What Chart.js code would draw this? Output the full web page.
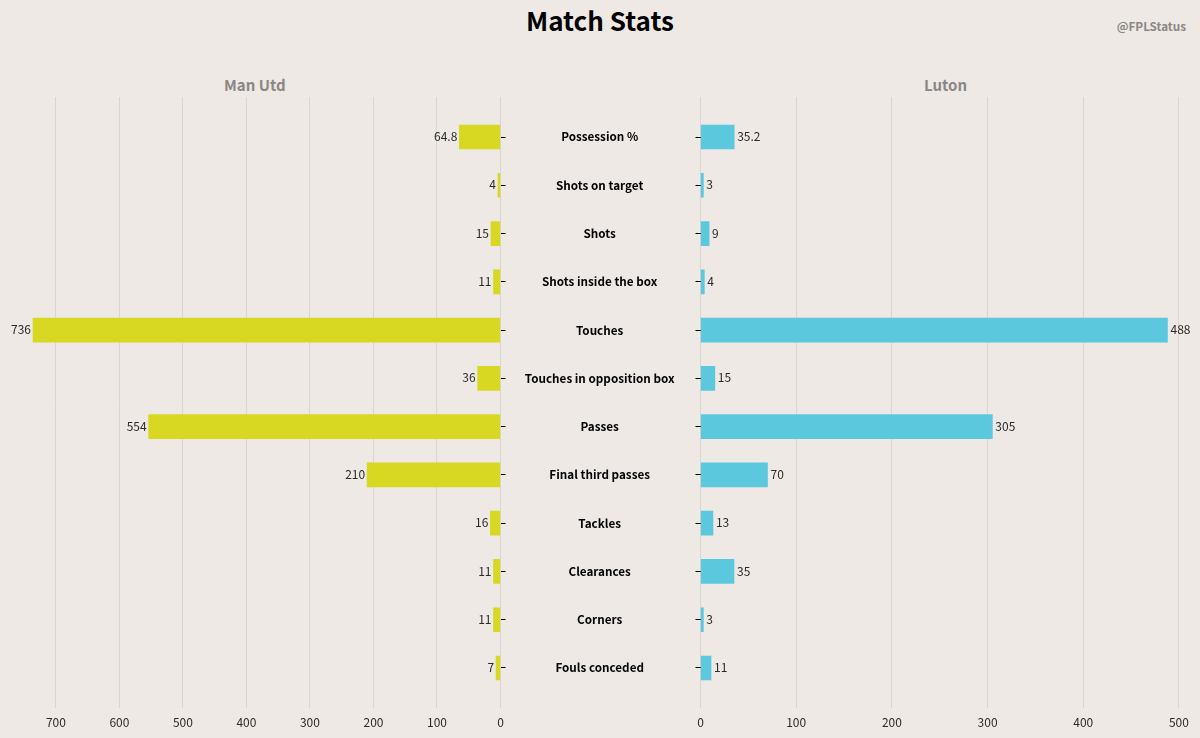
<!DOCTYPE html>
<html>
<head>
<meta charset="utf-8">
<title>Match Stats</title>
<script src="https://cdn.jsdelivr.net/npm/chart.js@4"></script>
<style>
  html, body { margin: 0; padding: 0; width: 1200px; height: 738px; overflow: hidden; background: #eee9e5; }
  body { position: relative; font-family: "Noto Sans CJK JP", "Noto Sans", sans-serif; }
  canvas { position: absolute; top: 0; }
  #left { left: 0; }
  #right { left: 500px; }
  .txt { position: absolute; font-weight: 700; white-space: nowrap; line-height: 1; }
  #title { left: 0; width: 1200px; top: 7px; text-align: center; font-size: 26px; color: #000; }
  #handle { right: 14px; top: 20px; font-size: 11.7px; color: #8a8784; }
  .team { font-size: 15px; color: #8a8784; top: 77px; }
</style>
</head>
<body>
<div class="txt" id="title">Match Stats</div>
<div class="txt" id="handle">@FPLStatus</div>
<div class="txt team" style="left:224px">Man Utd</div>
<div class="txt team" style="left:924px">Luton</div>
<canvas id="left" width="520" height="738"></canvas>
<canvas id="right" width="700" height="738"></canvas>
<script>
const categories = ["Possession %", "Shots on target", "Shots", "Shots inside the box", "Touches",
  "Touches in opposition box", "Passes", "Final third passes", "Tackles", "Clearances", "Corners", "Fouls conceded"];
const manUtd = [64.8, 4, 15, 11, 736, 36, 554, 210, 16, 11, 11, 7];
const luton  = [35.2, 3, 9, 4, 488, 15, 305, 70, 13, 35, 3, 11];

const FONT = "'Noto Sans CJK JP', 'Noto Sans', sans-serif";
const GRID = "#d9d5d1";

// value next to the end of each bar
const valueLabels = {
  id: "valueLabels",
  afterDatasetsDraw(chart) {
    const ctx = chart.ctx;
    const reversed = chart.scales.x.options.reverse;
    ctx.save();
    ctx.font = "12px " + FONT;
    ctx.fillStyle = "#2b2b2b";
    ctx.textBaseline = "middle";
    ctx.textAlign = reversed ? "right" : "left";
    chart.getDatasetMeta(0).data.forEach((bar, i) => {
      const v = chart.data.datasets[0].data[i].x;
      ctx.fillText(v, bar.x + (reversed ? -2 : 3), bar.y - 0.5);
    });
    ctx.restore();
  }
};

function makeChart(id, values, color, opts) {
  return new Chart(document.getElementById(id).getContext("2d"), {
    type: "bar",
    data: {
      datasets: [{
        data: values.map((v, i) => ({ x: v, y: i })),
        backgroundColor: color,
        borderWidth: 0,
        barThickness: 24
      }]
    },
    options: {
      indexAxis: "y",
      responsive: false,
      animation: false,
      layout: { padding: { top: 97 } },
      plugins: { legend: { display: false }, tooltip: { enabled: false } },
      scales: {
        x: {
          type: "linear",
          reverse: opts.reverse,
          min: 0,
          max: opts.max,
          border: { display: false },
          grid: { color: GRID, lineWidth: 1, drawTicks: false },
          ticks: {
            stepSize: 100,
            includeBounds: false,
            maxRotation: 0,
            padding: 7,
            color: "#2b2b2b",
            font: { family: FONT, size: 12 }
          },
          afterFit(s) { s.height = 30; }
        },
        y: {
          type: "linear",
          position: opts.yPos,
          reverse: true,
          offset: false,
          bounds: "data",
          min: -0.829,
          max: 11.829,
          border: { display: false },
          grid: { offset: false, drawOnChartArea: false, drawTicks: true, tickLength: 5, tickColor: "#000", tickWidth: 1 },
          ticks: {
            autoSkip: false,
            crossAlign: "center",
            padding: 21,
            color: "#000",
            font: { family: FONT, size: 11.7, weight: "bold" },
            callback: opts.yLabels
          },
          // one tick per stat, on the bar centre
          afterBuildTicks(s) { s.ticks = categories.map((c, i) => ({ value: i })); },
          afterFit(s) { s.width = opts.yWidth; }
        }
      }
    },
    plugins: [valueLabels]
  });
}

makeChart("left", manUtd, "#d8d823", { reverse: true, max: 788, yPos: "right", yWidth: 19.5, yLabels: () => "" });
makeChart("right", luton, "#5bc8de", { reverse: false, max: 522, yPos: "left", yWidth: 200.5, yLabels: v => categories[v] });
</script>
</body>
</html>
